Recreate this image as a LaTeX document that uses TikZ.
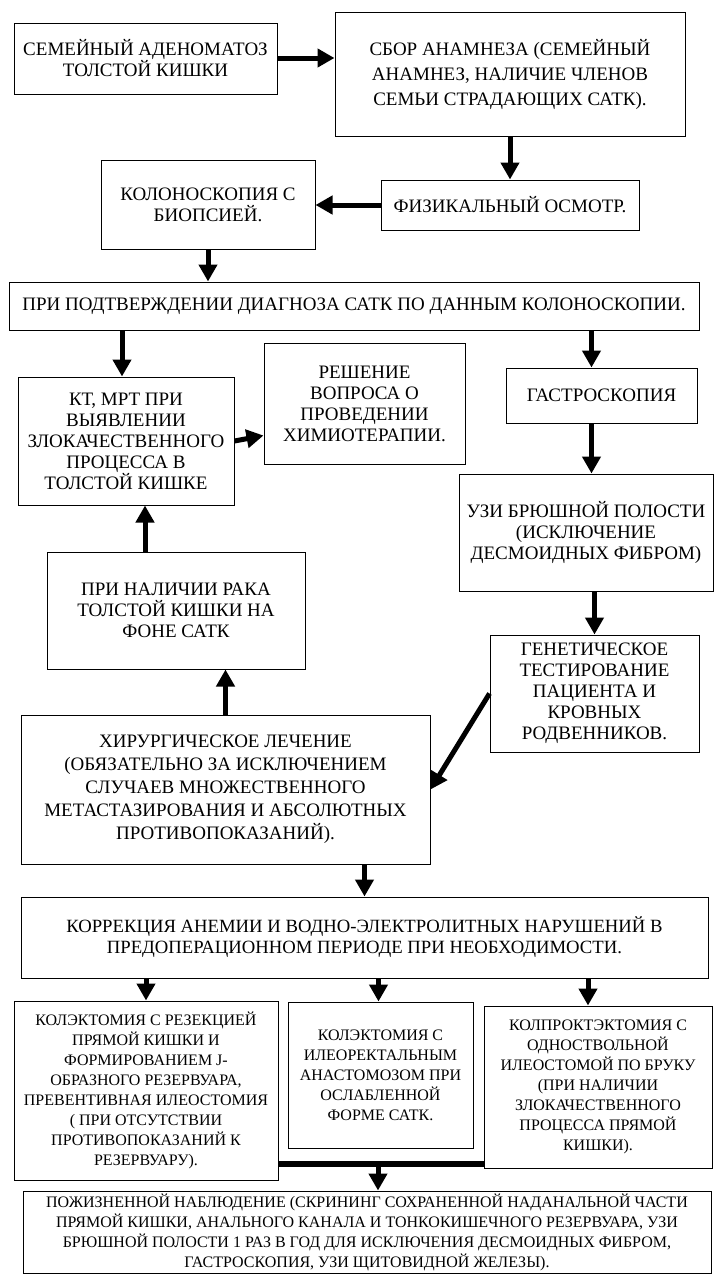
\documentclass[tikz,border=0pt]{standalone}
\usepackage{fontspec}
\setmainfont{Liberation Serif}
\usepackage{tikz}
\usetikzlibrary{arrows.meta,positioning,calc}
\tikzstyle{box} = [draw,line width=1pt,rectangle,align=center,inner sep=2pt,font=\fontsize{19}{21}\selectfont]
\tikzstyle{small} = [font=\fontsize{16}{20}\selectfont]
\tikzstyle{arr} = [line width=5pt,-{Triangle[length=17pt,width=18pt]}]
\tikzstyle{bar} = [line width=6pt]

\begin{document}
\begin{tikzpicture}[x=1pt,y=-1pt]
    \useasboundingbox (0,0) rectangle (720,1280);

    \node [box,minimum width=263pt,minimum height=71pt] (fam) at (145.5,58.5) {СЕМЕЙНЫЙ АДЕНОМАТОЗ\\ТОЛСТОЙ КИШКИ};
    \node [box,minimum width=350pt,minimum height=124pt,font=\fontsize{19}{25}\selectfont] (anam) at (510,74) {СБОР АНАМНЕЗА (СЕМЕЙНЫЙ\\АНАМНЕЗ, НАЛИЧИЕ ЧЛЕНОВ\\СЕМЬИ СТРАДАЮЩИХ САТК).};
    \node [box,minimum width=258pt,minimum height=50pt] (fiz) at (510,205) {ФИЗИКАЛЬНЫЙ ОСМОТР.};
    \node [box,minimum width=214pt,minimum height=89pt] (kolono) at (208,204.5) {КОЛОНОСКОПИЯ С\\БИОПСИЕЙ.};
    \node [box,minimum width=690pt,minimum height=48pt] (diag) at (354,306) {ПРИ ПОДТВЕРЖДЕНИИ ДИАГНОЗА САТК ПО ДАННЫМ КОЛОНОСКОПИИ.};
    \node [box,minimum width=216pt,minimum height=128pt] (kt) at (126,441) {КТ, МРТ ПРИ\\ВЫЯВЛЕНИИ\\ЗЛОКАЧЕСТВЕННОГО\\ПРОЦЕССА В\\ТОЛСТОЙ КИШКЕ};
    \node [box,minimum width=201pt,minimum height=121pt] (chemo) at (364.5,403.5) {РЕШЕНИЕ\\ВОПРОСА О\\ПРОВЕДЕНИИ\\ХИМИОТЕРАПИИ.};
    \node [box,minimum width=191pt,minimum height=55pt] (gastro) at (601.5,395.5) {ГАСТРОСКОПИЯ};
    \node [box,minimum width=254pt,minimum height=117pt] (uzi) at (586,532.5) {УЗИ БРЮШНОЙ ПОЛОСТИ\\(ИСКЛЮЧЕНИЕ\\ДЕСМОИДНЫХ ФИБРОМ)};
    \node [box,minimum width=258pt,minimum height=117pt] (rak) at (176,610.5) {ПРИ НАЛИЧИИ РАКА\\ТОЛСТОЙ КИШКИ НА\\ФОНЕ САТК};
    \node [box,minimum width=209pt,minimum height=117pt] (gen) at (594.5,693.5) {ГЕНЕТИЧЕСКОЕ\\ТЕСТИРОВАНИЕ\\ПАЦИЕНТА И\\КРОВНЫХ\\РОДВЕННИКОВ.};
    \node [box,minimum width=409pt,minimum height=149pt,font=\fontsize{19}{23}\selectfont] (surg) at (225.5,789.5) {ХИРУРГИЧЕСКОЕ ЛЕЧЕНИЕ\\(ОБЯЗАТЕЛЬНО ЗА ИСКЛЮЧЕНИЕМ\\СЛУЧАЕВ МНОЖЕСТВЕННОГО\\МЕТАСТАЗИРОВАНИЯ И АБСОЛЮТНЫХ\\ПРОТИВОПОКАЗАНИЙ).};
    \node [box,minimum width=687pt,minimum height=81pt,font=\fontsize{18.7}{21}\selectfont] (korr) at (364.5,937.5) {КОРРЕКЦИЯ АНЕМИИ И ВОДНО-ЭЛЕКТРОЛИТНЫХ НАРУШЕНИЙ В\\ПРЕДОПЕРАЦИОННОМ ПЕРИОДЕ ПРИ НЕОБХОДИМОСТИ.};
    \node [box,small,minimum width=264pt,minimum height=179pt] (colJ) at (146,1090.5) {КОЛЭКТОМИЯ С РЕЗЕКЦИЕЙ\\ПРЯМОЙ КИШКИ И\\ФОРМИРОВАНИЕМ J-\\ОБРАЗНОГО РЕЗЕРВУАРА,\\ПРЕВЕНТИВНАЯ ИЛЕОСТОМИЯ\\( ПРИ ОТСУТСТВИИ\\ПРОТИВОПОКАЗАНИЙ К\\РЕЗЕРВУАРУ).};
    \node [box,small,minimum width=185pt,minimum height=146pt] (colIR) at (380.5,1075) {КОЛЭКТОМИЯ С\\ИЛЕОРЕКТАЛЬНЫМ\\АНАСТОМОЗОМ ПРИ\\ОСЛАБЛЕННОЙ\\ФОРМЕ САТК.};
    \node [box,small,minimum width=228pt,minimum height=162pt] (colPr) at (598,1087) {КОЛПРОКТЭКТОМИЯ С\\ОДНОСТВОЛЬНОЙ\\ИЛЕОСТОМОЙ ПО БРУКУ\\(ПРИ НАЛИЧИИ\\ЗЛОКАЧЕСТВЕННОГО\\ПРОЦЕССА ПРЯМОЙ\\КИШКИ).};
    \node [box,small,minimum width=688pt,minimum height=82pt] (life) at (367,1232) {ПОЖИЗНЕННОЙ НАБЛЮДЕНИЕ (СКРИНИНГ СОХРАНЕННОЙ НАДАНАЛЬНОЙ ЧАСТИ\\ПРЯМОЙ КИШКИ, АНАЛЬНОГО КАНАЛА И ТОНКОКИШЕЧНОГО РЕЗЕРВУАРА, УЗИ\\БРЮШНОЙ ПОЛОСТИ 1 РАЗ В ГОД ДЛЯ ИСКЛЮЧЕНИЯ ДЕСМОИДНЫХ ФИБРОМ,\\ГАСТРОСКОПИЯ, УЗИ ЩИТОВИДНОЙ ЖЕЛЕЗЫ).};

    \draw [arr] ([yshift=0.5pt]fam.east) -- ([yshift=0.5pt]fam.east -| anam.west);
    \draw [arr] (anam.south) -- (fiz.north);
    \draw [arr] (fiz.west) -- (fiz.west -| kolono.east);
    \draw [arr] (kolono.south) -- (kolono.south |- diag.north);
    \draw [arr] ([xshift=-4pt]kt.north |- diag.south) -- ([xshift=-4pt]kt.north);
    \draw [arr] ([xshift=-10pt]gastro.north |- diag.south) -- ([xshift=-10pt]gastro.north);
    \draw [arr] (kt.east) -- ([yshift=-32pt]chemo.west);
    \draw [arr] ([xshift=-10pt]gastro.south) -- ([xshift=-10pt]gastro.south |- uzi.north);
    \draw [arr] (uzi.south -| gen.north) -- (gen.north);
    \draw [arr] (gen.west) -- (surg.east);
    \draw [arr] (surg.north) -- (surg.north |- rak.south);
    \draw [arr] ([xshift=-31pt]rak.north) -- ([xshift=-31pt]rak.north |- kt.south);
    \draw [arr] (korr.north |- surg.south) -- (korr.north);
    \draw [arr] (korr.south -| colJ.north) -- (colJ.north);
    \draw [arr] ([xshift=-2pt]korr.south -| colIR.north) -- ([xshift=-2pt]colIR.north);
    \draw [arr] ([xshift=-10pt]korr.south -| colPr.north) -- ([xshift=-10pt]colPr.north);

    \coordinate (join) at (378,1164);
    \draw [bar] (join -| colJ.east) -- (join -| colPr.west);
    \draw [arr] (join) -- (join |- life.north);
\end{tikzpicture}
\end{document}
